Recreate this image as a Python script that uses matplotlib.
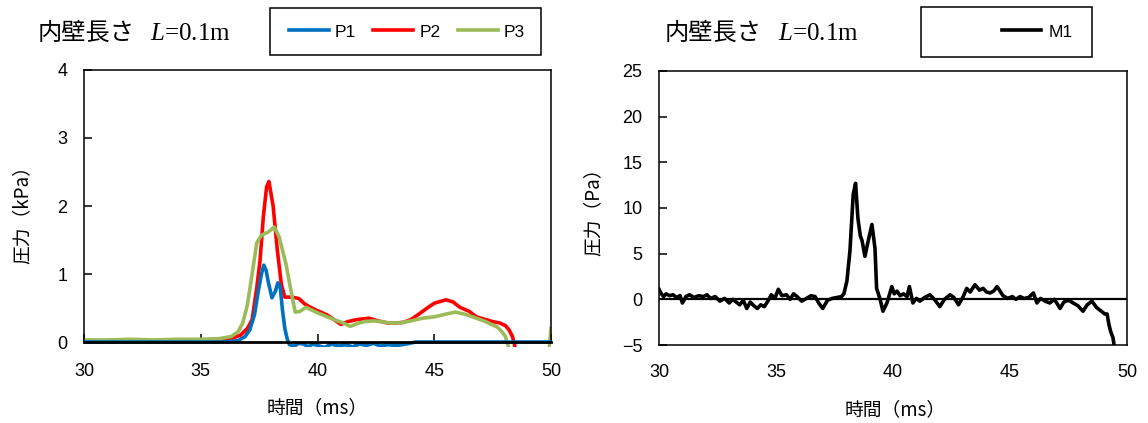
import matplotlib
matplotlib.use("Agg")
import matplotlib.pyplot as plt
from matplotlib import font_manager
from matplotlib.lines import Line2D
from matplotlib.patches import Rectangle

# ---- data -------------------------------------------------------------
# P1 (blue), wall pressure [kPa] vs time [ms]
p1_t = [30, 32, 34, 36, 36.6, 36.9, 37.1, 37.3, 37.45, 37.6, 37.7, 37.8, 37.9,
        38.05, 38.2, 38.3, 38.4, 38.5, 38.6, 38.7, 38.8, 39.0, 39.2, 39.4, 39.6,
        39.8, 40.0, 40.3, 40.6, 40.9, 41.2, 41.5, 41.8, 42.1, 42.4, 42.7, 43.0,
        43.4, 43.8, 44.2, 50]
p1_v = [0.0, 0.0, 0.0, 0.0, 0.02, 0.08, 0.18, 0.4, 0.72, 1.0, 1.13, 1.05, 0.87,
        0.65, 0.75, 0.87, 0.81, 0.47, 0.2, 0.05, -0.04, -0.06, -0.02, -0.03, -0.07,
        -0.03, -0.05, -0.08, -0.03, -0.06, -0.04, -0.07, -0.03, -0.05, -0.02, -0.06, -0.04,
        -0.05, -0.03, 0.0, 0.0]

# P2 (red)
p2_t = [30, 31, 32, 33, 34, 35, 35.8, 36.3, 36.7, 37.0, 37.2, 37.4, 37.54, 37.68,
        37.82, 37.92, 38.1, 38.28, 38.45, 38.6, 38.9, 39.2, 39.45, 39.7, 40.0, 40.4,
        40.7, 41.0, 41.3, 41.7, 42.2, 42.6, 43.0, 43.4, 43.7, 44.0, 44.3, 44.7, 45.0,
        45.3, 45.5, 45.8, 46.1, 46.5, 46.8, 47.2, 47.5, 47.8, 48.05, 48.2, 48.35,
        48.45, 48.6, 50]
p2_v = [0.0, 0.01, 0.0, 0.01, 0.0, 0.01, 0.02, 0.05, 0.1, 0.2, 0.33, 0.8, 1.2, 1.84,
        2.28, 2.36, 2.0, 1.35, 0.85, 0.66, 0.66, 0.64, 0.56, 0.51, 0.46, 0.4,
        0.33, 0.26, 0.3, 0.33, 0.35, 0.31, 0.28, 0.28, 0.29, 0.33, 0.4, 0.5, 0.57,
        0.6, 0.62, 0.59, 0.51, 0.45, 0.37, 0.33, 0.30, 0.28, 0.24, 0.18, 0.08,
        -0.06, -0.3, -0.3]

# P3 (green)
p3_t = [30, 31, 32, 33, 34, 35, 35.8, 36.3, 36.6, 36.8, 37.0, 37.2, 37.4, 37.6,
        37.9, 38.15, 38.35, 38.5, 38.65, 38.8, 38.95, 39.05, 39.25, 39.5, 39.75,
        40.0, 40.35, 40.7, 41.1, 41.4, 41.7, 42.0, 42.4, 42.7, 43.1, 43.5, 44.0,
        44.5, 45.0, 45.5, 45.9, 46.3, 46.8, 47.2, 47.5, 47.7, 47.9, 48.05, 48.2,
        48.4, 49.5, 49.9, 50.0]
p3_v = [0.03, 0.03, 0.04, 0.03, 0.04, 0.04, 0.05, 0.08, 0.15, 0.28, 0.55, 1.0,
        1.46, 1.57, 1.62, 1.69, 1.55, 1.35, 1.15, 0.87, 0.6, 0.44, 0.45, 0.51, 0.47,
        0.43, 0.38, 0.33, 0.28, 0.23, 0.27, 0.3, 0.31, 0.3, 0.28, 0.28, 0.31,
        0.35, 0.37, 0.41, 0.44, 0.41, 0.35, 0.3, 0.25, 0.22, 0.15, 0.08, -0.1,
        -0.3, -0.3, -0.2, 0.2]

# M1 (black), pressure [Pa] vs time [ms]
m1_t = [30.0, 30.1, 30.2, 30.3, 30.45, 30.6, 30.75, 30.9, 31.0, 31.15, 31.3, 31.5,
        31.7, 31.9, 32.05, 32.2, 32.4, 32.6, 32.8, 33.0, 33.15, 33.3, 33.45, 33.6,
        33.75, 33.9, 34.05, 34.2, 34.35, 34.5, 34.65, 34.8, 34.95, 35.1, 35.25,
        35.45, 35.6, 35.75, 35.9, 36.1, 36.3, 36.5, 36.67, 36.85, 37.0, 37.2, 37.4,
        37.6, 37.8, 37.9, 38.03, 38.16, 38.3, 38.4, 38.5, 38.6, 38.68, 38.8, 38.94,
        39.1, 39.23, 39.3, 39.45, 39.57, 39.74, 39.95, 40.05, 40.17, 40.3, 40.45,
        40.6, 40.7, 40.85, 41.0, 41.15, 41.35, 41.58, 41.8, 42.0, 42.2, 42.44, 42.6,
        42.8, 43.0, 43.15, 43.3, 43.5, 43.7, 43.85, 44.0, 44.15, 44.3, 44.45, 44.7,
        44.9, 45.1, 45.25, 45.43, 45.6, 45.8, 46.0, 46.15, 46.3, 46.5, 46.7, 46.9,
        47.14, 47.3, 47.5, 47.7, 47.9, 48.12, 48.3, 48.5, 48.7, 48.9, 49.05, 49.15,
        49.23, 49.3, 49.4, 49.45]
m1_v = [1.1, 0.6, 0.3, 0.6, 0.4, 0.5, 0.2, 0.4, -0.4, 0.3, 0.5, 0.2,
        0.4, 0.3, 0.5, 0.1, 0.3, -0.2, 0.1, -0.4, 0.0, -0.3, -0.6, -0.1,
        -1.0, -0.3, -0.7, -1.0, -0.6, -0.8, -0.2, 0.5, 0.1, 1.1, 0.4,
        0.5, 0.0, 0.6, 0.3, -0.2, 0.1, 0.4, 0.3, -0.5, -1.0, -0.1, 0.1,
        0.2, 0.3, 0.6, 2.0, 5.3, 11.5, 12.7, 8.9, 7.0, 6.4, 4.7, 6.4,
        8.2, 5.6, 1.2, 0.0, -1.3, -0.4, 1.4, 0.6, 0.9, 0.4, 0.6,
        0.3, 1.4, -0.4, 0.1, -0.2, 0.2, 0.5, -0.1, -0.8, 0.0, 0.5, 0.2,
        -0.6, 0.3, 1.2, 0.8, 1.6, 1.0, 1.2, 0.8, 0.7, 0.9, 1.4, 0.4,
        0.1, 0.3, 0.0, 0.3, 0.1, 0.2, 0.7, -0.4, 0.1, -0.2, -0.4, 0.0,
        -1.0, -0.3, -0.1, -0.4, -0.7, -1.3, -0.6, -0.2, -0.9, -1.3, -1.6, -1.6,
        -2.8, -3.5, -4.2, -5.0]

x_ticks = [30, 35, 40, 45, 50]
left_y_ticks = [0, 1, 2, 3, 4]
right_y_ticks = [-5, 0, 5, 10, 15, 20, 25]

title_jp = "内壁長さ"
title_len = r"$\mathit{L}$=0.1m"
xlabel = "時間（ms）"
left_ylabel = "圧力（kPa）"
right_ylabel = "圧力（Pa）"

# ---- fonts ------------------------------------------------------------
available = {f.name for f in font_manager.fontManager.ttflist}
num_font = "Liberation Sans Narrow" if "Liberation Sans Narrow" in available else "Liberation Sans"
jp_font = ["Noto Sans CJK JP", "DejaVu Sans"]
serif_font = "Liberation Serif"

plt.rcParams["font.family"] = [num_font, "DejaVu Sans"]
plt.rcParams["mathtext.fontset"] = "custom"
plt.rcParams["mathtext.rm"] = "Liberation Serif"
plt.rcParams["mathtext.it"] = "Liberation Serif:italic"

W, H = 1148, 423
fig = plt.figure(figsize=(W / 100, H / 100), dpi=100)


def fx(px):
    return px / W


def fy(py):
    return 1 - py / H


BLUE = "#0070C0"
RED = "#FF0000"
GREEN = "#9BBB59"
LW = 2.6

# ---- left panel -------------------------------------------------------
yl0 = -0.08
axL = fig.add_axes([fx(84), fy(342 + 68 * -yl0), (551 - 84) / W,
                    (342 + 68 * -yl0 - 70) / H])
axL.plot(p1_t, p1_v, color=BLUE, lw=LW, solid_joinstyle="round", zorder=3)
axL.plot(p2_t, p2_v, color=RED, lw=LW, solid_joinstyle="round", zorder=2)
axL.plot(p3_t, p3_v, color=GREEN, lw=LW, solid_joinstyle="round", zorder=2.5)
axL.set_xlim(30, 50)
axL.set_ylim(yl0, 4)
axL.spines["bottom"].set_position(("data", 0))
axL.spines["bottom"].set_linewidth(2.0)
axL.spines["bottom"].set_zorder(4)
for s in ("left", "right"):
    axL.spines[s].set_bounds(0, 4)
for s in ("left", "right", "top"):
    axL.spines[s].set_linewidth(1.1)
axL.set_xticks(x_ticks)
axL.set_yticks(left_y_ticks)
axL.tick_params(axis="x", direction="in", length=6, width=1.1, pad=15, labelsize=13)
axL.tick_params(axis="y", direction="in", length=6, width=1.1, pad=12, labelsize=13)

# ---- right panel ------------------------------------------------------
axR = fig.add_axes([fx(659), fy(345), (1127 - 659) / W, (345 - 71) / H])
axR.plot(m1_t, m1_v, color="black", lw=LW, solid_joinstyle="round", zorder=3)
axR.axhline(0, color="black", lw=1.6, zorder=2)
axR.set_xlim(30, 50)
axR.set_ylim(-5, 25)
for s in axR.spines.values():
    s.set_linewidth(1.1)
axR.set_xticks(x_ticks)
axR.set_yticks(right_y_ticks)
axR.tick_params(axis="x", length=0, pad=14, labelsize=13)
axR.tick_params(axis="y", direction="in", length=6, width=1.1, pad=12, labelsize=13)

# ---- axis labels ------------------------------------------------------
lab_kw = dict(family=jp_font, fontsize=13.5, ha="center", va="center")
fig.text(fx(317), fy(408), xlabel, **lab_kw)
fig.text(fx(895), fy(410), xlabel, **lab_kw)
fig.text(fx(22), fy(210), left_ylabel, rotation=90, **lab_kw)
fig.text(fx(593), fy(207), right_ylabel, rotation=90, **lab_kw)

# ---- titles -----------------------------------------------------------
for x_jp, x_l in ((38, 150), (665, 778)):
    fig.text(fx(x_jp), fy(33), title_jp, family=jp_font, fontsize=17.5,
             ha="left", va="center")
    fig.text(fx(x_l), fy(34), title_len, family=serif_font,
             fontsize=18, ha="left", va="center")

# ---- legends ----------------------------------------------------------
fig.patches.append(Rectangle((fx(270), fy(55)), (541 - 270) / W, (55 - 8) / H,
                             transform=fig.transFigure, fill=False,
                             edgecolor="black", lw=1.1))
fig.patches.append(Rectangle((fx(921), fy(57)), (1092 - 921) / W, (57 - 7) / H,
                             transform=fig.transFigure, fill=False,
                             edgecolor="black", lw=1.1))

hL = [Line2D([], [], color=c, lw=LW) for c in (BLUE, RED, GREEN)]
fig.legend(hL, ["P1", "P2", "P3"], loc="center", bbox_to_anchor=(fx(407), fy(32)),
           ncol=3, frameon=False, fontsize=12.5, handlelength=2.3,
           handletextpad=0.35, columnspacing=1.0, borderpad=0, borderaxespad=0)
hR = [Line2D([], [], color="black", lw=LW)]
fig.legend(hR, ["M1"], loc="center", bbox_to_anchor=(fx(1037), fy(32)),
           frameon=False, fontsize=12.5, handlelength=2.3, handletextpad=0.4,
           borderpad=0, borderaxespad=0)

fig.savefig("out.png", dpi=100)
